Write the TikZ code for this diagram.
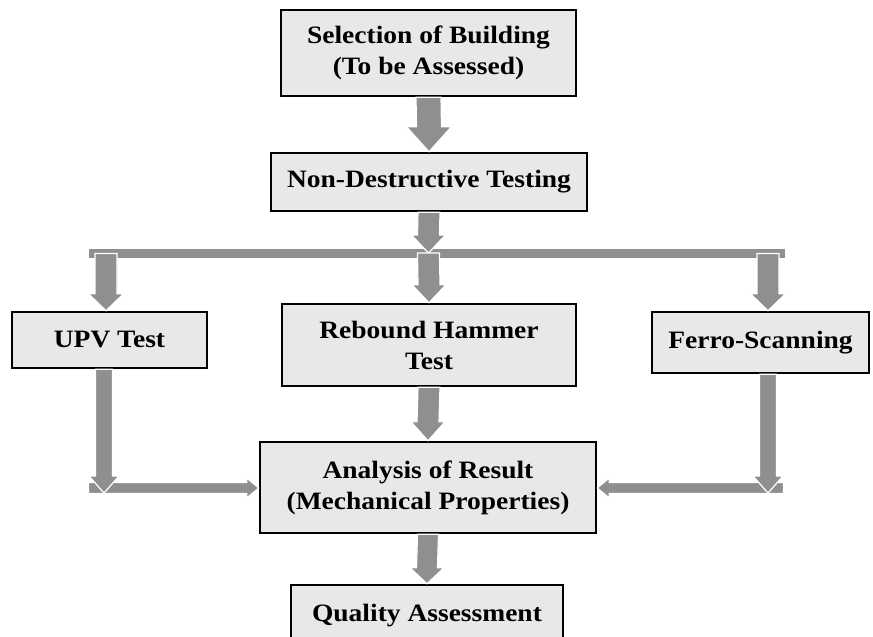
\documentclass[tikz,border=0pt]{standalone}
\usepackage{fontspec}
\setmainfont{Liberation Serif}[FakeStretch=1.1]
\usetikzlibrary{calc}
\definecolor{boxfill}{HTML}{E8E8E8}
\definecolor{agray}{HTML}{8F8F8F}
% down-pointing block arrow: start, tip, shaft half width, head half width, head length
\newcommand\blockdown[5]{%
  \filldraw[arrowshape] ($(#1)+(-#3,0)$) -- ($(#2)+(-#3,-#5)$) -- ($(#2)+(-#4,-#5)$) -- (#2)
    -- ($(#2)+(#4,-#5)$) -- ($(#2)+(#3,-#5)$) -- ($(#1)+(#3,0)$) -- cycle;}
% right-pointing block arrow
\newcommand\blockright[5]{%
  \filldraw[arrowshape] ($(#1)+(0,-#3)$) -- ($(#2)+(-#5,-#3)$) -- ($(#2)+(-#5,-#4)$) -- (#2)
    -- ($(#2)+(-#5,#4)$) -- ($(#2)+(-#5,#3)$) -- ($(#1)+(0,#3)$) -- cycle;}
% left-pointing block arrow
\newcommand\blockleft[5]{%
  \filldraw[arrowshape] ($(#1)+(0,-#3)$) -- ($(#2)+(#5,-#3)$) -- ($(#2)+(#5,-#4)$) -- (#2)
    -- ($(#2)+(#5,#4)$) -- ($(#2)+(#5,#3)$) -- ($(#1)+(0,#3)$) -- cycle;}
\begin{document}
\begin{tikzpicture}[x=1pt,y=-1pt,
  box/.style={draw=black, line width=2.5pt, fill=boxfill, align=center,
    font=\fontsize{25}{31}\selectfont\bfseries, inner sep=0pt},
  arrowshape/.style={fill=agray, draw=white, line width=1.2pt, line join=miter},
  barline/.style={fill=agray, draw=white, line width=0.8pt}]
\useasboundingbox (0,0) rectangle (873,637);
\fill[white] (0,0) rectangle (873,637);
% boxes
\node[box, minimum width=295pt, minimum height=86pt] (sel) at (428.5,53) {Selection of Building\\(To be Assessed)};
\node[box, minimum width=316pt, minimum height=58pt] (ndt) at (429,182) {Non-Destructive Testing};
\node[box, minimum width=195pt, minimum height=56pt] (upv) at (109.5,340) {UPV Test};
\node[box, minimum width=294pt, minimum height=82pt] (reb) at (429,345) {Rebound Hammer\\Test};
\node[box, minimum width=217pt, minimum height=61pt] (fer) at (760.5,342.5) {Ferro-Scanning};
\node[box, minimum width=336pt, minimum height=91pt] (ana) at (428,487.5) {Analysis of Result\\(Mechanical Properties)};
\node[box, minimum width=272pt, minimum height=62pt] (qua) at (427,616) {Quality Assessment};
% helper coordinates
\coordinate (barL) at (88.5,248.5);
\coordinate (barR) at (785,258.5);
\coordinate (barmid) at (428.5,253);
\coordinate (upvtop) at (106,253.5);
\coordinate (fertop) at (768,253.5);
\coordinate (lcorner) at (104,493);
\coordinate (rcorner) at (768,493);
\coordinate (lstart) at (88.5,488);
\coordinate (rstart) at (783.5,488);
% connectors
\blockdown{sel.south}{ndt.north}{12.5}{22.5}{25}
\filldraw[barline] (barL) rectangle (barR);
\blockdown{ndt.south}{barmid}{11}{17}{18}
\blockdown{upvtop}{upvtop |- upv.north}{11}{17.5}{17}
\blockdown{barmid}{reb.north}{11}{17}{18}
\blockdown{fertop}{fertop |- fer.north}{11}{17.5}{17}
\blockright{lstart}{lstart -| ana.west}{5.5}{10}{12}
\blockleft{rstart}{rstart -| ana.east}{5.5}{10}{12}
\blockdown{lcorner |- upv.south}{lcorner}{8.5}{15}{17}
\blockdown{rcorner |- fer.south}{rcorner}{8.5}{15}{17}
\blockdown{reb.south}{ana.north}{11}{17}{19}
\blockdown{ana.south}{qua.north}{10.5}{17}{16}
\end{tikzpicture}
\end{document}
